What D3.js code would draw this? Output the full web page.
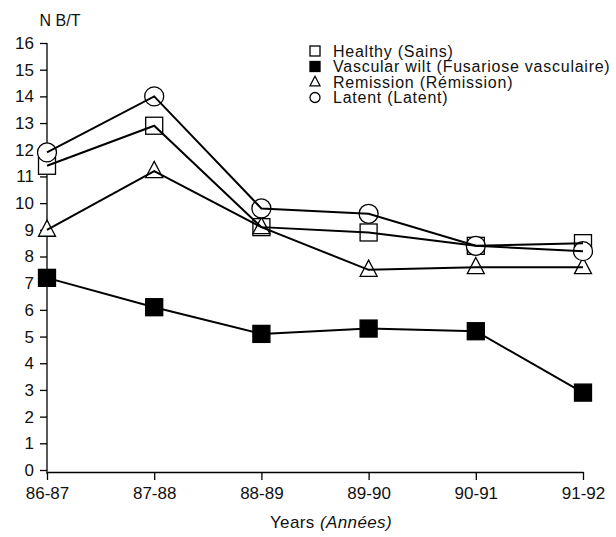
<!DOCTYPE html>
<html>
<head>
<meta charset="utf-8">
<script src="https://cdn.jsdelivr.net/npm/d3@7"></script>
<style>
  body { margin: 0; background: #fff; }
  text { font-family: "Liberation Sans", "Arial", sans-serif; fill: #111; }
</style>
</head>
<body>
<div id="chart"></div>
<script>
// data
const years = ["86-87", "87-88", "88-89", "89-90", "90-91", "91-92"];
const healthy = [11.4, 12.9, 9.1, 8.9, 8.4, 8.5];
const wilt = [7.2, 6.1, 5.1, 5.3, 5.2, 2.9];
const remission = [9.0, 11.2, 9.1, 7.5, 7.6, 7.6];
const latent = [11.9, 14.0, 9.8, 9.6, 8.4, 8.2];
const yTicks = d3.range(0, 17);

const seriesNames = ["Healthy (Sains)", "Vascular wilt (Fusariose vasculaire)", "Remission (Rémission)", "Latent (Latent)"];
const seriesVals = [healthy, wilt, remission, latent];
const seriesShapes = ["square", "filled", "triangle", "circle"];

let width = 616, height = 537;
let margin = { top: 43, left: 47, right: 33, bottom: 67 };

let svg = d3.select('#chart').append('svg')
  .attr('width', width)
  .attr('height', height);

let x = d3.scalePoint()
  .domain(years)
  .range([margin.left, width - margin.right]);

let y = d3.scaleLinear()
  .domain([0, 16])
  .range([height - margin.bottom, margin.top]);

// y axis
let yAxis = svg.append('g')
  .attr('transform', `translate(${margin.left},0)`)
  .call(d3.axisLeft(y).tickValues(yTicks).tickSize(7).tickPadding(6).tickSizeOuter(0));
yAxis.select('.domain').attr('stroke-width', 1.3).attr('d', `M0,${y(16)}V${y(0) + 4}`);
yAxis.selectAll('.tick line').attr('stroke-width', 1.3);
yAxis.selectAll('.tick text').style('font-size', '17px');

// x axis
let xAxis = svg.append('g')
  .attr('transform', `translate(0,${y(0) + 2})`)
  .call(d3.axisBottom(x).tickSize(8).tickPadding(7).tickSizeOuter(0));
xAxis.select('.domain').attr('stroke-width', 1.5);
xAxis.selectAll('.tick line').attr('stroke-width', 1.3);
xAxis.selectAll('.tick text').style('font-size', '17px');

// axis titles
svg.append('text')
  .attr('x', 60).attr('y', 26)
  .attr('text-anchor', 'middle')
  .style('font-size', '16px')
  .text('N B/T');

let xt = svg.append('text')
  .attr('x', 331).attr('y', 528)
  .attr('text-anchor', 'middle')
  .style('font-size', '17px')
  .style('letter-spacing', '0.4px');
xt.append('tspan').text('Years ');
xt.append('tspan').style('font-style', 'italic').text('(Années)');

// draws one marker centred on cx, cy
function marker(g, shape, cx, cy, s) {
  if (shape === 'square' || shape === 'filled') {
    g.append('rect')
      .attr('x', cx - s / 2).attr('y', cy - s / 2)
      .attr('width', s).attr('height', s)
      .attr('fill', shape === 'filled' ? '#000' : '#fff')
      .attr('stroke', '#000').attr('stroke-width', 1.3);
  } else if (shape === 'triangle') {
    let h = s * 0.95;
    g.append('path')
      .attr('d', `M${cx},${cy - h * 0.6}L${cx + s / 2},${cy + h * 0.4}L${cx - s / 2},${cy + h * 0.4}Z`)
      .attr('fill', '#fff').attr('stroke', '#000').attr('stroke-width', 1.3);
  } else {
    g.append('circle')
      .attr('cx', cx).attr('cy', cy).attr('r', s / 2)
      .attr('fill', '#fff').attr('stroke', '#000').attr('stroke-width', 1.3);
  }
}

let line = d3.line().x((d, i) => x(years[i])).y(d => y(d));

// markers first (hollow shapes) then lines over them, like the print
seriesVals.forEach((vals, k) => {
  let g = svg.append('g');
  vals.forEach((v, i) => marker(g, seriesShapes[k], x(years[i]), y(v), seriesShapes[k] === 'circle' ? 19 : 17));
});
seriesVals.forEach((vals) => {
  svg.append('path')
    .datum(vals)
    .attr('d', line)
    .attr('fill', 'none')
    .attr('stroke', '#000')
    .attr('stroke-width', 2);
});

// legend
let legend = svg.append('g').attr('transform', 'translate(315,51)');
seriesNames.forEach((name, i) => {
  let ly = i * 15.5;
  let g = legend.append('g');
  marker(g, seriesShapes[i], 0, ly, 10);
  legend.append('text')
    .attr('x', 18).attr('y', ly + 5.5)
    .style('font-size', '16px')
    .style('letter-spacing', '0.75px')
    .text(name);
});
</script>
</body>
</html>
